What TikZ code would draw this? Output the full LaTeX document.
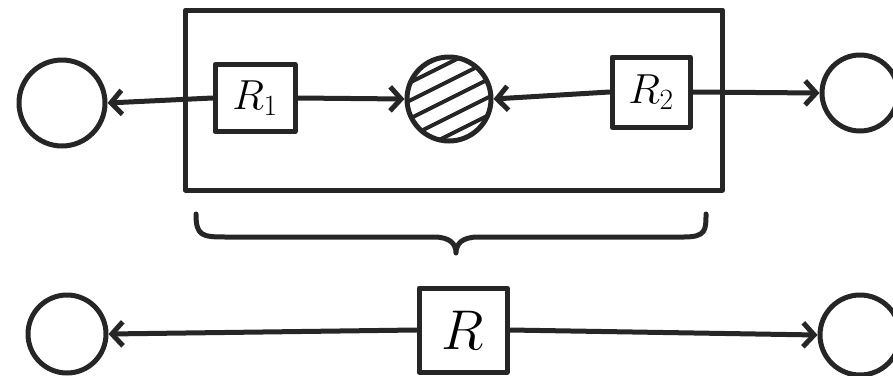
\RequirePackage{fix-cm}
\documentclass[tikz,border=0pt]{standalone}
\usetikzlibrary{arrows.meta,calc}
\begin{document}
\begin{tikzpicture}[x=1pt,y=-1pt,
  ink/.style={line width=5pt,draw=black!85,line cap=round,line join=round},
  ring/.style={ink,circle,inner sep=0pt},
  rbox/.style={ink,rectangle,inner sep=0pt,font=\fontsize{42}{42}\selectfont},
  conn/.style={ink,-{Straight Barb[length=11pt,width=24pt,line width=5pt]}}]
\useasboundingbox (0,0) rectangle (893,375);
% top row
\node[ink,rectangle,minimum width=537pt,minimum height=180pt] (big) at (454,100) {};
\node[ring,minimum size=86pt] (c1) at (62,103) {};
\node[rbox,minimum width=80pt,minimum height=67pt] (r1) at (255,98) {$R_1$};
\node[ring,minimum size=84pt] (h) at (449,99) {};
\node[rbox,minimum width=78pt,minimum height=70pt] (r2) at (651,92) {$R_2$};
\node[ring,minimum size=76pt] (c2) at (860,93) {};
\begin{scope}
  \clip (h.center) circle (40pt);
  \foreach \d in {-36,-18,0,18,36}
    \draw[line width=4pt,black!85] ($(h.center)+(-60,\d+30)$) -- ($(h.center)+(60,\d-30)$);
\end{scope}
\draw[conn] (r1.west) -- (c1.east);
\draw[conn] (r1.east) -- (h.west);
\draw[conn] (r2.west) -- (h.east);
\draw[conn] (r2.east) -- (c2.west);
% brace
\draw[ink] (196,214) .. controls (196,236) and (202,237) .. (226,237) -- (434,237)
  .. controls (450,237) and (456,244) .. (456,253)
  .. controls (456,244) and (462,237) .. (478,237) -- (684,237)
  .. controls (706,237) and (706,230) .. (706,214);
% bottom row
\node[ring,minimum size=78pt] (c3) at (67,334) {};
\node[rbox,minimum width=88pt,minimum height=84pt,font=\fontsize{56}{56}\selectfont] (r) at (463,330) {$R$};
\node[ring,minimum size=80pt] (c4) at (860,335) {};
\draw[conn] (r.west) -- (c3.east);
\draw[conn] (r.east) -- (c4.west);
\end{tikzpicture}
\end{document}
